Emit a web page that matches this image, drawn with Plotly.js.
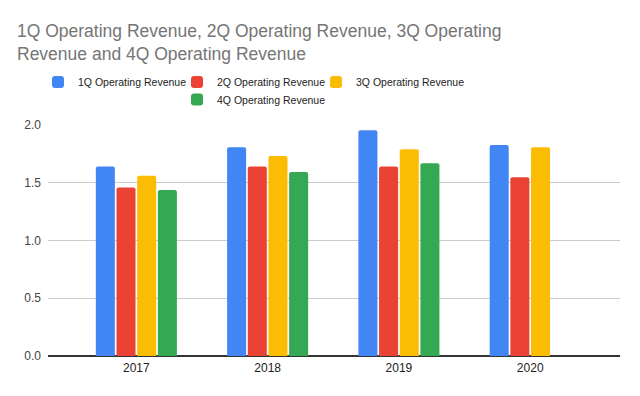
<!DOCTYPE html>
<html>
<head>
<meta charset="utf-8">
<script src="https://cdn.plot.ly/plotly-3.0.1.min.js"></script>
<style>html,body{margin:0;padding:0;background:#fff;}#chart{width:640px;height:396px;}</style>
</head>
<body>
<div id="chart"></div>
<script>
const years = ["2017", "2018", "2019", "2020"];
const q1 = [1.64, 1.807, 1.954, 1.827];
const q2 = [1.458, 1.64, 1.64, 1.548];
const q3 = [1.56, 1.732, 1.79, 1.807];
const q4 = [1.438, 1.594, 1.669, null];
const seriesNames = ["1Q Operating Revenue", "2Q Operating Revenue", "3Q Operating Revenue", "4Q Operating Revenue"];
const colors = ["#4285F4", "#EA4335", "#FBBC04", "#34A853"];
const yTicks = [0, 0.5, 1, 1.5, 2];
const yTickText = ["0.0", "0.5", "1.0", "1.5", "2.0"];

const values = [q1, q2, q3, q4];
const legendIds = ["legend", "legend2", "legend3", "legend4"];
const data = values.map((v, i) => ({
  type: "bar",
  x: years,
  y: v,
  name: seriesNames[i],
  marker: {color: colors[i]},
  legend: legendIds[i],
  hoverinfo: "x+y+name"
}));

const font = "Liberation Sans, Arial, sans-serif";
const legBase = {orientation: "h", xref: "container", yref: "container", xanchor: "left", yanchor: "middle",
  font: {family: font, size: 10.5, color: "#222"}, bgcolor: "rgba(0,0,0,0)", borderwidth: 0};

const layout = {
  width: 640, height: 396,
  paper_bgcolor: "#fff", plot_bgcolor: "#fff",
  margin: {l: 48, r: 20, t: 125, b: 39.5},
  title: {text: "1Q Operating Revenue, 2Q Operating Revenue, 3Q Operating<br>Revenue and 4Q Operating Revenue",
    font: {family: font, size: 17.5, color: "#757575"},
    xref: "container", yref: "container", x: 17/640, xanchor: "left", y: 1 - 37/396, yanchor: "top"},
  barmode: "group",
  bargap: 0.37,
  bargroupgap: 0.08,
  barcornerradius: 2,
  xaxis: {
    type: "category",
    range: [-0.673, 3.684],
    showgrid: false,
    showline: false,
    ticks: "",
    ticklabelstandoff: 3,
    tickfont: {family: font, size: 12, color: "#222"},
    fixedrange: true
  },
  yaxis: {
    range: [0, 2],
    tickvals: yTicks,
    ticktext: yTickText,
    showgrid: true,
    gridcolor: "#cccccc",
    gridwidth: 1,
    zeroline: true,
    zerolinecolor: "#333333",
    zerolinewidth: 1.5,
    showline: false,
    ticks: "",
    tickfont: {family: font, size: 12, color: "#444"},
    ticklabelstandoff: 6,
    fixedrange: true
  },
  showlegend: true,
  legend: Object.assign({}, legBase, {x: 38/640, y: 1 - 82/396}),
  legend2: Object.assign({}, legBase, {x: 177/640, y: 1 - 82/396}),
  legend3: Object.assign({}, legBase, {x: 316/640, y: 1 - 82/396}),
  legend4: Object.assign({}, legBase, {x: 177/640, y: 1 - 99.5/396})
};

Plotly.newPlot("chart", data, layout, {displayModeBar: false});
</script>
</body>
</html>
